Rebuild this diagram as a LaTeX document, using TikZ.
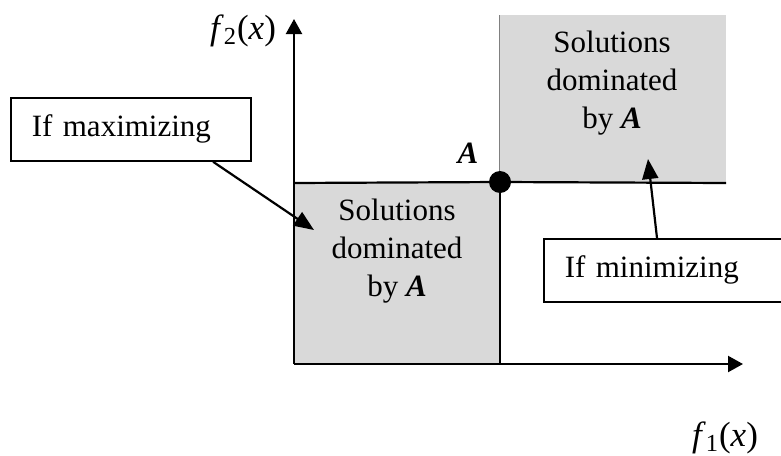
\documentclass[tikz,border=0pt]{standalone}
\usepackage{fontspec}
\setmainfont{Liberation Serif}
\usetikzlibrary{arrows.meta,positioning,calc}
\definecolor{domgray}{HTML}{D9D9D9}
\tikzset{
  axis/.style={line width=1.1pt, -{Triangle[length=7.5pt,width=8pt]}},
  pointer/.style={line width=1.1pt, -{Triangle[length=10pt,width=8pt]}},
  edge/.style={line width=1.1pt},
  region/.style={fill=domgray},
  regiontext/.style={align=center, font=\fontsize{15.5}{18.8}\selectfont},
  axislabel/.style={font=\fontsize{17.5}{20}\selectfont},
  note/.style={rectangle, draw, line width=0.9pt, align=left, anchor=north west,
               inner xsep=10.5pt, minimum height=31.5pt, font=\fontsize{15.5}{18.8}\selectfont},
  dot/.style={circle, fill, inner sep=0pt, minimum size=11pt},
}

\begin{document}
\begin{tikzpicture}[x=0.5pt, y=-0.5pt]
    \useasboundingbox (0,0) rectangle (781,455);
    \clip (0,0) rectangle (781,455);
    % dominated regions
    \fill[region] (294,183) rectangle (500,364);
    \fill[region] (499,15) rectangle (726,183);
    \draw[gray, line width=0.4pt] (499,15) -- (499,183);
    \coordinate (O) at (294,364);
    \coordinate (Apt) at (500,182);
    \draw[edge] (294,183) -- (Apt) -- (726,183);
    \draw[edge] (Apt) -- (500,364);
    \node[dot] (A) at (Apt) {};
    % axes
    \draw[axis] (O) -- (294,19);
    \draw[axis] (O) -- (743,364);
    \node[axislabel] (f2) at (243,31) {\textit{f}\textsubscript{2}(\textit{x})};
    \node[axislabel] (f1) at (725,438) {\textit{f}\textsubscript{1}(\textit{x})};
    \node[font=\fontsize{15.5}{18.8}\selectfont\bfseries\itshape] (Alab) at (468,153) {A};
    \node[regiontext] (low) at (397,251) {Solutions\\dominated\\by \textbf{\textit{A}}};
    \node[regiontext] (high) at (612,83) {Solutions\\dominated\\by \textbf{\textit{A}}};
    % notes
    \node[note, text width=99pt] (max) at (10,97) {If maximizing};
    \node[note, text width=109pt] (min) at (543,238) {If minimizing};
    \coordinate (maxtip) at (314,230);
    \coordinate (mintip) at (648,159);
    \draw[pointer] ($(max.south west)!0.84!(max.south east)$) -- (maxtip);
    \draw[pointer] ($(min.north west)+(114,0)$) -- (mintip);
\end{tikzpicture}
\end{document}
